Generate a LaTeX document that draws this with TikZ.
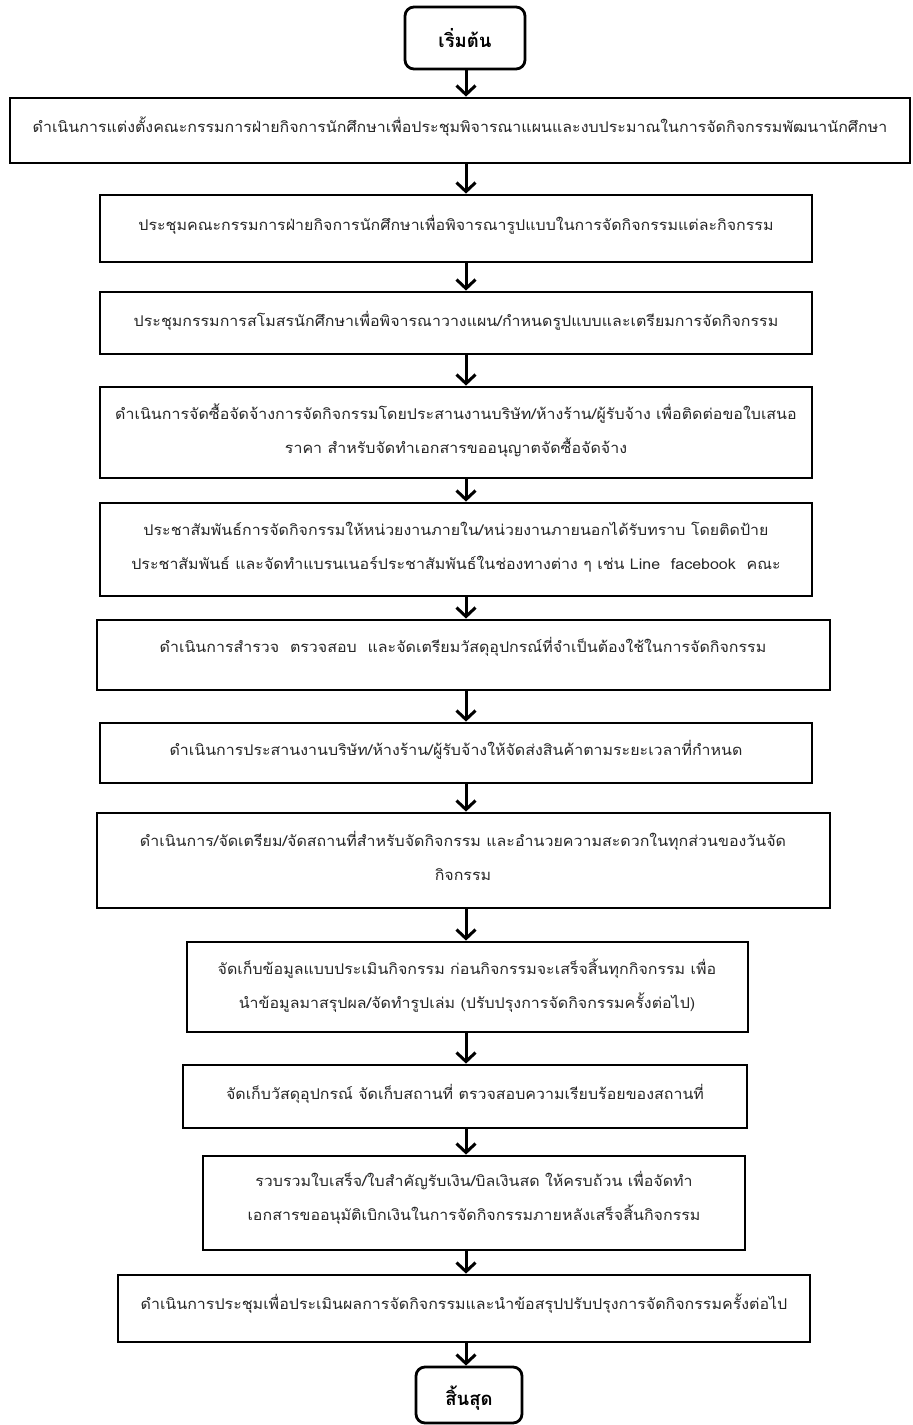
\documentclass[tikz,border=0pt]{standalone}
\usepackage{fontspec}
\newfontfamily\thaifont[Script=Thai,FakeStretch=1.08]{Loma}
\newfontfamily\thaibold[Script=Thai]{Loma}
\usetikzlibrary{arrows.meta}
\tikzset{
  box/.style={draw=black, line width=2.8pt, inner sep=0pt},
  term/.style={box, rounded corners=9pt},
  txt/.style={align=center, text=black!85, font=\thaifont\fontsize{14.8}{34}\selectfont, inner sep=0pt},
  ttxt/.style={font=\thaibold\bfseries\fontsize{18.5}{20}\selectfont, inner sep=0pt},
  arr/.style={line width=3pt, -{Straight Barb[length=9pt,width=19pt,line width=3pt]}}
}
\newcommand{\bx}[6]{% name, x1, y1, x2, y2, style
  \node[#6, minimum width={(#4-#2)*1pt}, minimum height={(#5-#3)*1pt}] (#1) at ({(#2+#4)/2},{(#3+#5)/2}) {};}
\begin{document}
\begin{tikzpicture}[x=1pt,y=-1pt]
\useasboundingbox (0,0) rectangle (913,1425);
\bx{s}{405}{7}{525}{69}{term}
\node[ttxt] (ts) at (465,38) {เริ่มต้น};
\bx{b1}{10}{98}{910}{163}{box}
\node[txt] (t1) at (460,127) {ดำเนินการแต่งตั้งคณะกรรมการฝ่ายกิจการนักศึกษาเพื่อประชุมพิจารณาแผนและงบประมาณในการจัดกิจกรรมพัฒนานักศึกษา};
\bx{b2}{100}{195}{812}{262}{box}
\node[txt] (t2) at (456,225) {ประชุมคณะกรรมการฝ่ายกิจการนักศึกษาเพื่อพิจารณารูปแบบในการจัดกิจกรรมแต่ละกิจกรรม};
\bx{b3}{100}{292}{812}{354}{box}
\node[txt] (t3) at (456,321) {ประชุมกรรมการสโมสรนักศึกษาเพื่อพิจารณาวางแผน/กำหนดรูปแบบและเตรียมการจัดกิจกรรม};
\bx{b4}{100}{387}{812}{478}{box}
\node[txt] (t4) at (456,431) {ดำเนินการจัดซื้อจัดจ้างการจัดกิจกรรมโดยประสานงานบริษัท/ห้างร้าน/ผู้รับจ้าง เพื่อติดต่อขอใบเสนอ\\ราคา สำหรับจัดทำเอกสารขออนุญาตจัดซื้อจัดจ้าง};
\bx{b5}{100}{503}{812}{596}{box}
\node[txt] (t5) at (456,547) {ประชาสัมพันธ์การจัดกิจกรรมให้หน่วยงานภายใน/หน่วยงานภายนอกได้รับทราบ โดยติดป้าย\\ประชาสัมพันธ์ และจัดทำแบรนเนอร์ประชาสัมพันธ์ในช่องทางต่าง ๆ เช่น Line\ \ facebook\ \ คณะ};
\bx{b6}{97}{620}{830}{690}{box}
\node[txt] (t6) at (463,647) {ดำเนินการสำรวจ\ \ ตรวจสอบ\ \ และจัดเตรียมวัสดุอุปกรณ์ที่จำเป็นต้องใช้ในการจัดกิจกรรม};
\bx{b7}{100}{723}{812}{783}{box}
\node[txt] (t7) at (456,750) {ดำเนินการประสานงานบริษัท/ห้างร้าน/ผู้รับจ้างให้จัดส่งสินค้าตามระยะเวลาที่กำหนด};
\bx{b8}{97}{813}{830}{908}{box}
\node[txt] (t8) at (463,856) {ดำเนินการ/จัดเตรียม/จัดสถานที่สำหรับจัดกิจกรรม และอำนวยความสะดวกในทุกส่วนของวันจัด\\กิจกรรม};
\bx{b9}{187}{942}{748}{1032}{box}
\node[txt] (t9) at (467,986) {จัดเก็บข้อมูลแบบประเมินกิจกรรม ก่อนกิจกรรมจะเสร็จสิ้นทุกกิจกรรม เพื่อ\\นำข้อมูลมาสรุปผล/จัดทำรูปเล่ม (ปรับปรุงการจัดกิจกรรมครั้งต่อไป)};
\bx{b10}{183}{1065}{747}{1128}{box}
\node[txt] (t10) at (465,1094) {จัดเก็บวัสดุอุปกรณ์ จัดเก็บสถานที่ ตรวจสอบความเรียบร้อยของสถานที่};
\bx{b11}{203}{1156}{745}{1250}{box}
\node[txt] (t11) at (474,1198) {รวบรวมใบเสร็จ/ใบสำคัญรับเงิน/บิลเงินสด ให้ครบถ้วน เพื่อจัดทำ\\เอกสารขออนุมัติเบิกเงินในการจัดกิจกรรมภายหลังเสร็จสิ้นกิจกรรม};
\bx{b12}{118}{1275}{810}{1342}{box}
\node[txt] (t12) at (464,1304) {ดำเนินการประชุมเพื่อประเมินผลการจัดกิจกรรมและนำข้อสรุปปรับปรุงการจัดกิจกรรมครั้งต่อไป};
\bx{e}{416}{1367}{522}{1423}{term}
\node[ttxt] (te) at (469,1398) {สิ้นสุด};
\coordinate (ax) at (466,0);
\foreach \a/\b in {s/b1,b1/b2,b2/b3,b3/b4,b4/b5,b5/b6,b6/b7,b7/b8,b8/b9,b9/b10,b10/b11,b11/b12,b12/e}
  \draw[arr] (\a.south -| ax) -- (\b.north -| ax);
\end{tikzpicture}
\end{document}
